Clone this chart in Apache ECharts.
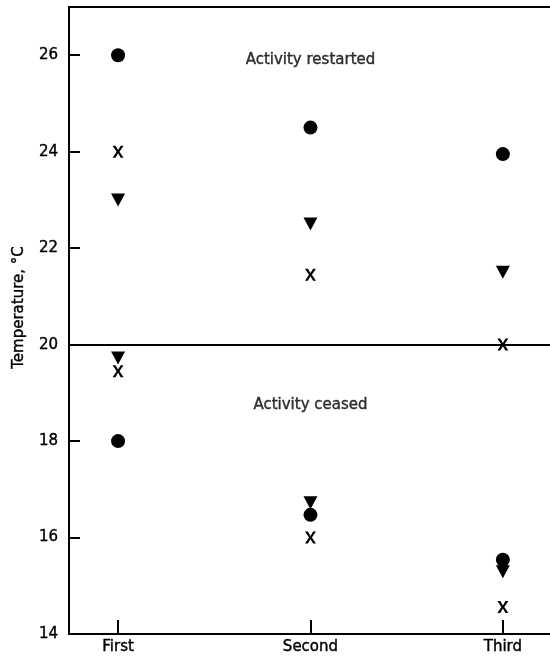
<!DOCTYPE html>
<html><head><meta charset="utf-8">
<script src="https://cdn.jsdelivr.net/npm/echarts@6/dist/echarts.min.js"></script>
<style>html,body{margin:0;padding:0;background:#fff}#c{width:550px;height:658px}</style>
</head><body><div id="c"></div>
<script>
const categories = ['First', 'Second', 'Third'];
const catPos = [1, 2, 3];
const restartCircle = [26, 24.5, 23.95];
const restartTriangle = [23, 22.5, 21.5];
const restartCross = [24, 21.45, 20];
const ceaseCircle = [18, 16.47, 15.54];
const ceaseTriangle = [19.72, 16.72, 15.29];
const ceaseCross = [19.45, 16.0, 14.56];
const thresholdTemp = 20;
const annotations = [
  { text: 'Activity restarted', x: 2, y: 25.9 },
  { text: 'Activity ceased', x: 2, y: 18.74 }
];

const FONT = 'DejaVu Sans';
const INK = '#000';
const FS = 15;
function pts(arr) { return arr.map((v, i) => [catPos[i], v]); }
const crossPath = 'path://M0,0 L2.6,0 L5,4.4 L7.4,0 L10,0 L6.3,6 L10,12 L7.4,12 L5,7.6 L2.6,12 L0,12 L3.7,6 Z';
const triPath = 'path://M0,0 L14,0 L7,13 Z';
const mk = { color: INK, opacity: 1 };
const txt = { color: INK, fontFamily: FONT, fontSize: FS, fontWeight: 'normal', textBorderColor: INK, textBorderWidth: 0.4 };

const chart = echarts.init(document.getElementById('c'));
chart.setOption({
  animation: false,
  backgroundColor: '#fff',
  grid: { left: 69, right: 0, top: 7, bottom: 24, containLabel: false, outerBoundsMode: 'none' },
  xAxis: [{
    type: 'value', min: 0.745, max: 3.245,
    axisLine: { show: true, lineStyle: { color: INK, width: 2 } },
    axisTick: { show: true, inside: true, length: 14, lineStyle: { color: INK, width: 2 }, customValues: catPos },
    axisLabel: Object.assign({ show: true, customValues: catPos, margin: 6,
      formatter: v => categories[Math.round(v) - 1] || '' }, txt),
    splitLine: { show: false }
  }, {
    type: 'value', position: 'top', min: 0.745, max: 3.245,
    axisLine: { show: true, onZero: false, lineStyle: { color: INK, width: 2 } },
    axisTick: { show: false }, axisLabel: { show: false }, splitLine: { show: false }
  }],
  yAxis: {
    type: 'value', min: 14, max: 27, interval: 2,
    name: 'Temperature, °C', nameLocation: 'middle', nameGap: 42,
    nameTextStyle: Object.assign({ padding: [0, 0, 0, 26] }, txt),
    axisLine: { show: true, lineStyle: { color: INK, width: 2 } },
    axisTick: { show: true, inside: true, length: 11, lineStyle: { color: INK, width: 2 } },
    axisLabel: Object.assign({ show: true, margin: 11, formatter: v => (v <= 26 ? String(v) : '') }, txt),
    splitLine: { show: false }
  },
  series: [
    { type: 'scatter', name: 'circle-restart', data: pts(restartCircle), symbol: 'circle', symbolSize: 14, itemStyle: mk,
      markLine: { silent: true, symbol: 'none', label: { show: false },
        lineStyle: { color: INK, width: 2, type: 'solid', opacity: 1 }, data: [{ yAxis: thresholdTemp }] } },
    { type: 'scatter', name: 'circle-cease', data: pts(ceaseCircle), symbol: 'circle', symbolSize: 14, itemStyle: mk },
    { type: 'scatter', name: 'tri-restart', data: pts(restartTriangle), symbol: triPath, symbolSize: [14, 13], itemStyle: mk },
    { type: 'scatter', name: 'tri-cease', data: pts(ceaseTriangle), symbol: triPath, symbolSize: [14, 13], itemStyle: mk },
    { type: 'scatter', name: 'cross-restart', data: pts(restartCross), symbol: crossPath, symbolSize: [11, 12], itemStyle: mk },
    { type: 'scatter', name: 'cross-cease', data: pts(ceaseCross), symbol: crossPath, symbolSize: [11, 12], itemStyle: mk },
    { type: 'scatter', name: 'notes', data: annotations.map(a => [a.x, a.y, a.text]), symbolSize: 0, silent: true,
      label: Object.assign({ show: true, position: 'inside', formatter: p => p.value[2] }, txt) }
  ]
});
</script></body></html>
